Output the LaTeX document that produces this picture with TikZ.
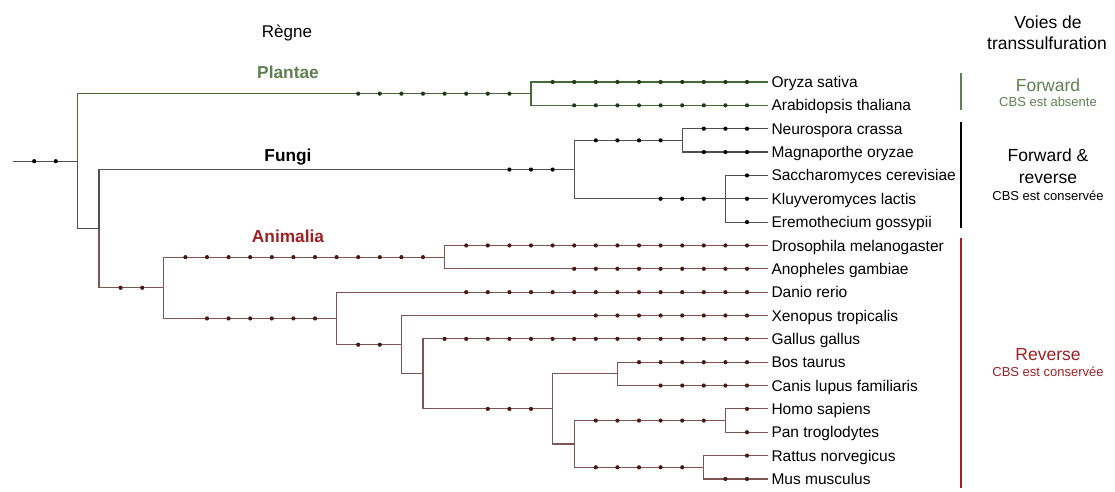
\documentclass[tikz,border=0pt]{standalone}
\usepackage{fontspec}
\setmainfont{Liberation Sans}

\definecolor{plantline}{HTML}{466B38}
\definecolor{plantdot}{HTML}{1E3D17}
\definecolor{plantlab}{HTML}{5E8050}
\definecolor{fungline}{HTML}{505050}
\definecolor{animline}{HTML}{7D5555}
\definecolor{animdot}{HTML}{4A1818}
\definecolor{animlab}{HTML}{9E1F24}

\newcommand{\brdots}[3]{\foreach \u in {#1} \fill[#3] (\u,0 |- #2) circle (2.1pt);}

\tikzset{
  leaf/.style={anchor=west, inner xsep=3pt, inner ysep=0pt, text height=11.1pt, text depth=0pt, font=\fontsize{15.5}{18}\selectfont},
  clade/.style={anchor=base, font=\fontsize{17.3}{20}\selectfont\bfseries},
  head/.style={anchor=base, font=\fontsize{17.5}{21}\selectfont},
  note/.style={anchor=base, font=\fontsize{13}{15}\selectfont},
  bar/.style={line width=2.4pt},
}

\begin{document}
\begin{tikzpicture}[x=21.6pt, y=-23.35pt, line width=1.15pt]
	\useasboundingbox (0pt,0pt) rectangle (1115pt,-491pt);
	\begin{scope}[shift={(12.6pt,-82pt)}]
		% noeuds internes
		\coordinate (st) at (0,3.390625);
		\coordinate (R) at (3,3.390625);
		\coordinate (B) at (4,6.28125);
		\coordinate (P) at (24,0.5);
		\coordinate (F) at (26,3.75);
		\coordinate (F1) at (31,2.5);
		\coordinate (F2) at (33,5);
		\coordinate (A) at (7,8.8125);
		\coordinate (I) at (20,7.5);
		\coordinate (V) at (15,10.125);
		\coordinate (V2) at (18,11.25);
		\coordinate (V3) at (19,12.5);
		\coordinate (M) at (25,14);
		\coordinate (BC) at (28,12.5);
		\coordinate (PR) at (26,15.5);
		\coordinate (HP) at (33,14.5);
		\coordinate (RM) at (32,16.5);
		% especes
		\foreach \sp [count=\i from 0] in {Oryza sativa, Arabidopsis thaliana, Neurospora crassa, Magnaporthe oryzae, Saccharomyces cerevisiae, Kluyveromyces lactis, Eremothecium gossypii, Drosophila melanogaster, Anopheles gambiae, Danio rerio, Xenopus tropicalis, Gallus gallus, Bos taurus, Canis lupus familiaris, Homo sapiens, Pan troglodytes, Rattus norvegicus, Mus musculus}
			{\coordinate (t\i) at (34.97,\i);
			\node[leaf] (l\i) at (t\i) {\sp};}

		\draw[fungline] (st) -- (R) (R) |- (B);
		\draw[plantline] (R) |- (P) (P) |- (t0) (P) |- (t1);
		\draw[fungline] (B) |- (F) (F) |- (F1) (F) |- (F2) (F1) |- (t2) (F1) |- (t3) (F2) |- (t4) (F2) |- (t5) (F2) |- (t6);
		\draw[animline] (B) |- (A) (A) |- (I) (A) |- (V) (I) |- (t7) (I) |- (t8) (V) |- (t9) (V) |- (V2) (V2) |- (t10) (V2) |- (V3) (V3) |- (t11) (V3) |- (M) (M) |- (BC) (M) |- (PR) (BC) |- (t12) (BC) |- (t13) (PR) |- (HP) (PR) |- (RM) (HP) |- (t14) (HP) |- (t15) (RM) |- (t16) (RM) |- (t17);

		\brdots{1,2}{st}{black}
		\brdots{16,...,23}{P}{plantdot}
		\brdots{25,...,34}{t0}{plantdot}
		\brdots{26,...,34}{t1}{plantdot}
		\brdots{23,24,25}{F}{black}
		\brdots{27,...,30}{F1}{black}
		\brdots{32,33,34}{t2}{black}
		\brdots{32,33,34}{t3}{black}
		\brdots{30,31,32}{F2}{black}
		\brdots{34}{t4}{black}
		\brdots{34}{t5}{black}
		\brdots{34}{t6}{black}
		\brdots{5,6}{A}{animdot}
		\brdots{8,...,19}{I}{animdot}
		\brdots{21,...,34}{t7}{animdot}
		\brdots{26,...,34}{t8}{animdot}
		\brdots{9,...,14}{V}{animdot}
		\brdots{21,...,34}{t9}{animdot}
		\brdots{16,17}{V2}{animdot}
		\brdots{27,...,34}{t10}{animdot}
		\brdots{20,...,34}{t11}{animdot}
		\brdots{22,23,24}{M}{animdot}
		\brdots{29,...,34}{t12}{animdot}
		\brdots{30,...,34}{t13}{animdot}
		\brdots{27,...,32}{HP}{animdot}
		\brdots{34}{t14}{animdot}
		\brdots{34}{t15}{animdot}
		\brdots{27,...,31}{RM}{animdot}
		\brdots{34}{t16}{animdot}
		\brdots{33,34}{t17}{animdot}
	\end{scope}

	% titres
	\node[head, font=\fontsize{17}{20}\selectfont] (regne) at (287pt,-37.7pt) {Règne};
	\node[clade, plantlab] (plantae) at (288pt,-78.3pt) {Plantae};
	\node[clade] (fungi) at (288pt,-161.7pt) {Fungi};
	\node[clade, animlab] (animalia) at (288pt,-242.7pt) {Animalia};
	\node[head] (voies) at (1048pt,-28.3pt) {Voies de};
	\node[head] (trans) at (1047pt,-49.3pt) {transsulfuration};

	% voies
	\draw[bar, plantlab] (961pt,-73pt) -- (961pt,-110pt);
	\draw[bar, black] (961pt,-122pt) -- (961pt,-228pt);
	\draw[bar, animlab] (961pt,-238pt) -- (961pt,-488pt);
	\node[head, plantlab] (fw) at (1048pt,-91.7pt) {Forward};
	\node[note, plantlab] (fwn) at (1048pt,-106.7pt) {CBS est absente};
	\node[head] (fr1) at (1048pt,-161.7pt) {Forward \&};
	\node[head] (fr2) at (1048pt,-183.3pt) {reverse};
	\node[note] (frn) at (1048pt,-200pt) {CBS est conservée};
	\node[head, animlab] (rv) at (1048pt,-360.7pt) {Reverse};
	\node[note, animlab] (rvn) at (1048pt,-376.7pt) {CBS est conservée};
\end{tikzpicture}
\end{document}
